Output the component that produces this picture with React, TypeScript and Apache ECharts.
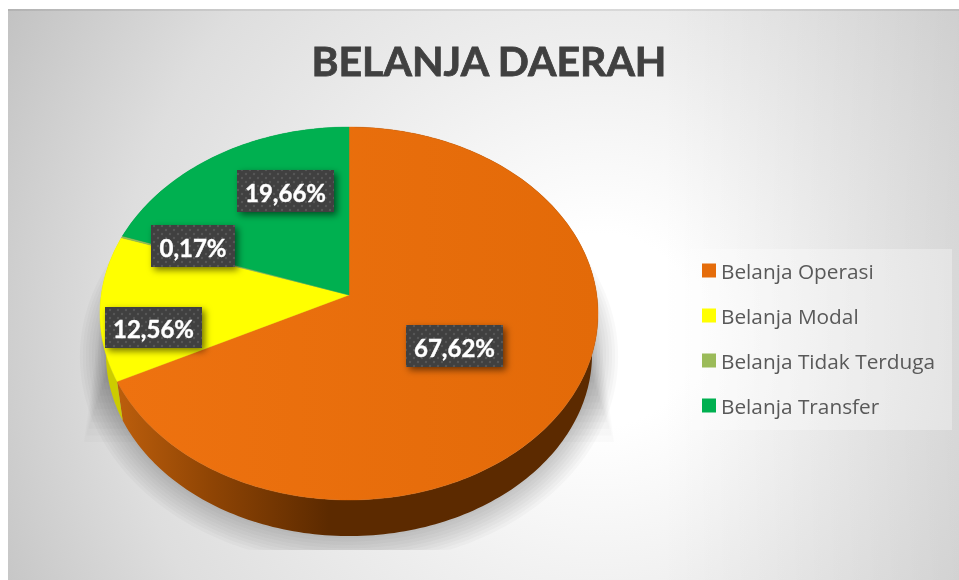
import React, { useEffect, useRef } from "react";
import * as echarts from "echarts";

const TITLE = "BELANJA DAERAH";
const CATEGORIES = ["Belanja Operasi", "Belanja Modal", "Belanja Tidak Terduga", "Belanja Transfer"];
const VALUES = [67.62, 12.56, 0.17, 19.66];
const VALUE_LABELS = ["67,62%", "12,56%", "0,17%", "19,66%"];
const COLORS = ["#E56C0A", "#FFFF00", "#9BBB59", "#00B050"];

const LABEL_BOX: Record<string, number[]> = {
  "0": [406, 325, 97, 42],
  "1": [105, 307, 97, 41],
  "2": [151, 225, 84, 42],
  "3": [237, 170, 97, 42],
};

const K = 0.0992;
const TOP = { ax: 349, ay: 295, a: 247.8, b: 184.66 };
const BOTTOM = { ax: 349, ay: 336, a: 247.8 * 0.976, b: 184.66 * 0.976 };

function project(theta: number, p: { ax: number; ay: number; a: number; b: number }, grow = 0) {
  const u = Math.sin(theta);
  const v = -Math.cos(theta);
  const w = 1 - K * v;
  return [p.ax + ((p.a + grow) * u) / w, p.ay + ((p.b + grow) * v) / w];
}

function arcPoints(from: number, to: number, p: typeof TOP, grow = 0) {
  const n = Math.max(2, Math.ceil(Math.abs(to - from) / 0.02));
  const pts: number[][] = [];
  for (let i = 0; i <= n; i++) pts.push(project(from + ((to - from) * i) / n, p, grow));
  return pts;
}

const TOTAL = VALUES.reduce((s, v) => s + v, 0);

function sliceAngles(i: number) {
  const before = VALUES.slice(0, i).reduce((s, v) => s + v, 0);
  const from = (before / TOTAL) * Math.PI * 2;
  return [from, from + (VALUES[i] / TOTAL) * Math.PI * 2];
}

const dotTile =
  "data:image/svg+xml;utf8," +
  encodeURIComponent(
    "<svg xmlns='http://www.w3.org/2000/svg' width='8' height='8'><rect width='8' height='8' fill='#404040'/><circle cx='2' cy='2' r='1.2' fill='#565656'/><circle cx='6' cy='6' r='1.2' fill='#565656'/></svg>"
  );

function wallFill(i: number) {
  if (i === 0) {
    return new echarts.graphic.LinearGradient(0, 0, 1, 0, [
      { offset: 0, color: "#BC5E0C" },
      { offset: 0.2, color: "#8E4404" },
      { offset: 0.44, color: "#5C2A00" },
      { offset: 1, color: "#5C2A00" },
    ]);
  }
  if (i === 1) return "#CCCC00";
  if (i === 2) return "#7C9647";
  return "#008C40";
}

function renderSlice(i: number) {
  return () => {
    const [from, to] = sliceAngles(i);
    const rim = arcPoints(from, to, TOP);
    const lower = arcPoints(to, from, BOTTOM);
    const box = LABEL_BOX[String(i)];
    const fill = COLORS[i];
    const topFill =
      i === 0
        ? new echarts.graphic.LinearGradient(0, 0, 1, 0, [
            { offset: 0, color: "#EE7210" },
            { offset: 1, color: "#E36A08" },
          ])
        : fill;
    return {
      type: "group",
      children: [
        {
          type: "polygon",
          z2: 1,
          shape: { points: [...rim, ...lower] },
          style: { fill: wallFill(i) },
        },
        {
          type: "polygon",
          z2: 2,
          shape: { points: [[TOP.ax, TOP.ay], ...rim] },
          style: { fill: topFill, stroke: fill, lineWidth: 0.4 },
        },
        {
          type: "rect",
          z2: 10,
          shape: { x: box[0], y: box[1], width: box[2], height: box[3] },
          style: {
            fill: { image: dotTile, repeat: "repeat", imageWidth: 8, imageHeight: 8 },
            shadowBlur: 7,
            shadowOffsetX: 3,
            shadowOffsetY: 3,
            shadowColor: "rgba(0,0,0,0.55)",
          },
        },
        {
          type: "text",
          z2: 11,
          style: {
            text: VALUE_LABELS[i],
            x: box[0] + box[2] / 2,
            y: box[1] + box[3] / 2 + 1,
            align: "center",
            verticalAlign: "middle",
            fill: "#FFFFFF",
            stroke: "#FFFFFF",
            lineWidth: 0.4,
            font: 'bold 24px Lato, sans-serif',
          },
        },
      ],
    };
  };
}

function renderShadow() {
  const children: any[] = [];
  const layers = 10;
  for (let i = 0; i < layers; i++) {
    const grow = 26 - i * 3;
    const ell = arcPoints(0, Math.PI * 2, BOTTOM, grow).map(([x, y]) => [x, Math.min(y, 550)]);
    children.push({
      type: "polygon",
      z2: 0,
      shape: { points: ell },
      style: { fill: "rgba(0,0,0,0.024)" },
    });
    const e = i * 2.2;
    children.push({
      type: "polygon",
      z2: 0,
      shape: {
        points: [
          [108 + e, 263],
          [590 - e, 263],
          [614 - e, 442 - e * 3],
          [84 + e, 442 - e * 3],
        ],
      },
      style: { fill: "rgba(0,0,0,0.016)" },
    });
  }
  return { type: "group", children };
}

export default function App() {
  const ref = useRef<HTMLDivElement>(null);
  useEffect(() => {
    const chart = echarts.init(ref.current!, undefined, { renderer: "svg" });
    const bg = new echarts.graphic.RadialGradient(600, 330, 690, [
      { offset: 0, color: "#FFFFFF" },
      { offset: 0.14, color: "#FFFFFF" },
      { offset: 0.4, color: "#EFEFEF" },
      { offset: 0.7, color: "#DEDEDE" },
      { offset: 1, color: "#C0C0C0" },
    ], true);
    const right = new echarts.graphic.LinearGradient(0, 0, 1, 0, [
      { offset: 0, color: "rgba(0,0,0,0)" },
      { offset: 1, color: "rgba(0,0,0,0.07)" },
    ]);
    chart.setOption({
      animation: false,
      title: {
        text: TITLE,
        left: 484,
        top: 35,
        textAlign: "center",
        textStyle: {
          fontFamily: "Lato, sans-serif",
          fontWeight: "bold",
          fontSize: 41,
          color: "#404040",
          textBorderColor: "#404040",
          textBorderWidth: 0.8,
        },
      },
      legend: {
        orient: "vertical",
        left: 702,
        top: 259,
        padding: 0,
        itemWidth: 14,
        itemHeight: 14,
        itemGap: 22,
        icon: "rect",
        selectedMode: false,
        data: CATEGORIES,
        textStyle: { fontFamily: "'Open Sans', sans-serif", fontSize: 20.8, color: "#595959", lineHeight: 23 },
      },
      graphic: [
        { type: "rect", z: -10, silent: true, shape: { x: 8, y: 9, width: 951, height: 571 }, style: { fill: bg } },
        { type: "rect", z: -9, silent: true, shape: { x: 660, y: 9, width: 299, height: 571 }, style: { fill: right } },
        { type: "rect", z: -8, silent: true, shape: { x: 8, y: 9, width: 951, height: 2 }, style: { fill: "rgba(0,0,0,0.08)" } },
        { type: "rect", z: -7, silent: true, shape: { x: 690, y: 249, width: 262, height: 181 }, style: { fill: "rgba(255,255,255,0.3)" } },
      ],
      series: [
        {
          type: "custom",
          name: "__shadow",
          coordinateSystem: "none",
          silent: true,
          data: [[0]],
          renderItem: renderShadow,
        },
        ...CATEGORIES.map((name, i) => ({
          type: "custom",
          name,
          coordinateSystem: "none",
          silent: true,
          itemStyle: { color: COLORS[i] },
          data: [[VALUES[i]]],
          renderItem: renderSlice(i),
        })),
      ],
    });
    return () => chart.dispose();
  }, []);
  return <div ref={ref} style={{ position: "fixed", left: 0, top: 0, width: 959, height: 580 }} />;
}
